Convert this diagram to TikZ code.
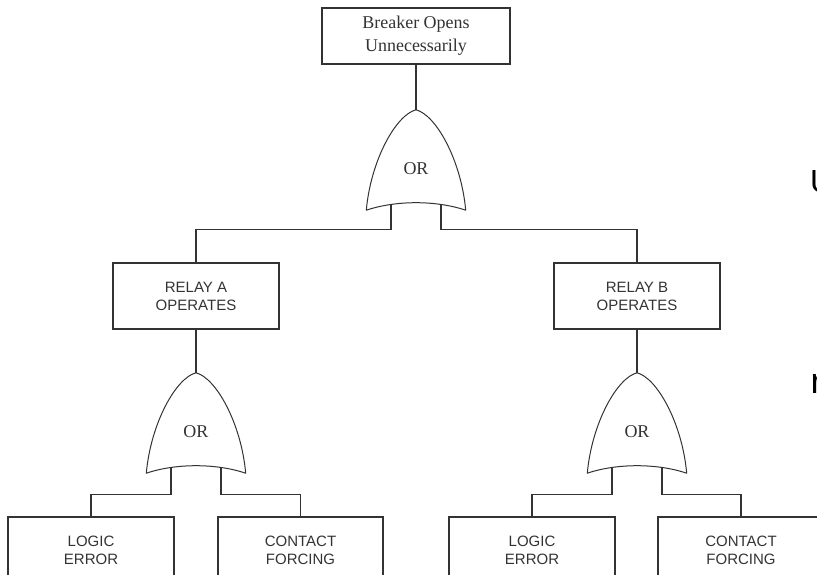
\documentclass[tikz,border=0pt]{standalone}
\usepackage{fontspec}
\setmainfont{Liberation Serif}
\setsansfont{Liberation Sans}

\newcommand{\gateoutline}[1]{%
  \draw[gateline] (#1.north)
    .. controls +(-20,5) and +(4.5,-50) .. (#1.south west)
    .. controls +(29.5,-10) and +(-29.5,-10) .. (#1.south east)
    .. controls +(-4.5,-50) and +(20,5) .. (#1.north) -- cycle;}

\begin{document}
\begin{tikzpicture}[
  x=1pt, y=-1pt,
  wire/.style={draw=black!80, line width=1.2pt},
  gateline/.style={draw=black!80, line width=1pt, line join=round},
  event/.style={rectangle, draw=black!80, line width=1.2pt, minimum width=166pt,
                minimum height=66pt, inner sep=0pt, align=center, text=black!80,
                font=\sffamily\fontsize{15}{18}\selectfont},
  topevent/.style={event, minimum width=188pt, minimum height=56pt,
                   font=\rmfamily\fontsize{18}{23}\selectfont},
  orgate/.style={minimum width=99pt, minimum height=100pt, inner sep=0pt,
                 text height=28pt, text depth=0pt, text=black!80,
                 font=\rmfamily\fontsize{18}{23}\selectfont},
  cutoff/.style={anchor=west, inner sep=0pt, text=black}
]
  \useasboundingbox (0,0) rectangle (817,574);

  \node[topevent] (top) at (416,36) {Breaker Opens\\Unnecessarily};
  \node[orgate] (g0) at (416,160) {OR};
  \node[event] (ra) at (196,296) {RELAY A\\OPERATES};
  \node[event] (rb) at (637,296) {RELAY B\\OPERATES};
  \node[orgate] (ga) at (196,423) {OR};
  \node[orgate] (gb) at (637,423) {OR};
  \node[event] (la) at (91,550) {LOGIC\\ERROR};
  \node[event, minimum width=165pt] (ca) at (300.5,550) {CONTACT\\FORCING};
  \node[event] (lb) at (532,550) {LOGIC\\ERROR};
  \node[event] (cb) at (741,550) {CONTACT\\FORCING};

  \node[cutoff, font=\sffamily\fontsize{32}{32}\selectfont] (u) at (810,181.5) {U};
  \node[cutoff, font=\sffamily\fontsize{36}{36}\selectfont] (r) at (810.5,383.6) {r};

  \gateoutline{g0}
  \gateoutline{ga}
  \gateoutline{gb}

  \draw[wire] (top.south) -- (g0.north);
  \draw[wire] ([xshift=-25pt,yshift=5.5pt]g0.south) -- ++(0,24.5) -| (ra.north);
  \draw[wire] ([xshift=25pt,yshift=5.5pt]g0.south) -- ++(0,24.5) -| (rb.north);
  \draw[wire] (ra.south) -- (ga.north);
  \draw[wire] (rb.south) -- (gb.north);
  \draw[wire] ([xshift=-25pt,yshift=5.5pt]ga.south) -- ++(0,26.5) -| (la.north);
  \draw[wire] ([xshift=25pt,yshift=5.5pt]ga.south) -- ++(0,26.5) -| (ca.north);
  \draw[wire] ([xshift=-25pt,yshift=5.5pt]gb.south) -- ++(0,26.5) -| (lb.north);
  \draw[wire] ([xshift=25pt,yshift=5.5pt]gb.south) -- ++(0,26.5) -| (cb.north);
\end{tikzpicture}
\end{document}
